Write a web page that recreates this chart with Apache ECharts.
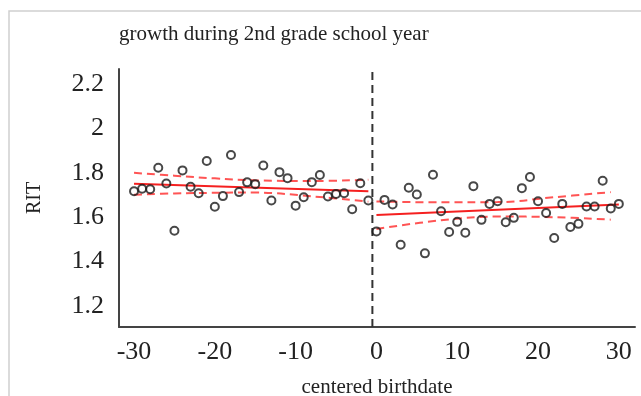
<!DOCTYPE html>
<html>
<head>
<meta charset="utf-8">
<script src="https://cdn.jsdelivr.net/npm/echarts@6/dist/echarts.min.js"></script>
<style>
  html, body { margin: 0; padding: 0; background: #fff; }
  #chart { width: 641px; height: 396px; }
</style>
</head>
<body>
<div id="chart"></div>
<script>
// Centered birthdate (days from cutoff) and mean RIT growth
const birthBefore = [-30, -29, -28, -27, -26, -25, -24, -23, -22, -21, -20, -19, -18, -17, -16,
                     -15, -14, -13, -12, -11, -10, -9, -8, -7, -6, -5, -4, -3, -2, -1];
const ritBefore = [1.717, 1.728, 1.726, 1.823, 1.752, 1.539, 1.811, 1.737, 1.708, 1.853,
                   1.647, 1.695, 1.880, 1.713, 1.757, 1.749, 1.833, 1.675, 1.803, 1.776,
                   1.652, 1.690, 1.758, 1.790, 1.693, 1.705, 1.708, 1.636, 1.753, 1.675];
const birthAfter = [0, 1, 2, 3, 4, 5, 6, 7, 8, 9, 10, 11, 12, 13, 14, 15,
                    16, 17, 18, 19, 20, 21, 22, 23, 24, 25, 26, 27, 28, 29, 30];
const ritAfter = [1.536, 1.678, 1.657, 1.476, 1.733, 1.702, 1.437, 1.791, 1.627, 1.533,
                  1.579, 1.530, 1.740, 1.588, 1.660, 1.672, 1.577, 1.597, 1.731, 1.781,
                  1.672, 1.619, 1.506, 1.660, 1.556, 1.570, 1.648, 1.648, 1.764, 1.639, 1.660];

// Linear fits and their confidence bands, per side of the cutoff
const fitBefore = [[-30, 1.751], [-1, 1.717]];
const upperBefore = [[-30, 1.800], [-25, 1.787], [-20, 1.775], [-15, 1.766], [-8, 1.763], [-1, 1.769]];
const lowerBefore = [[-30, 1.701], [-25, 1.707], [-20, 1.710], [-15, 1.711], [-8, 1.694], [-1, 1.670]];
const fitAfter = [[0, 1.610], [30, 1.657]];
const upperAfter = [[0, 1.671], [8, 1.667], [15, 1.668], [22, 1.690], [29, 1.713]];
const lowerAfter = [[0, 1.547], [8, 1.586], [15, 1.603], [22, 1.600], [29, 1.589]];

const cutoff = -0.5;
const xTicks = [-30, -20, -10, 0, 10, 20, 30];
const yTicks = [1.2, 1.4, 1.6, 1.8, 2, 2.2];

const serif = '"Liberation Serif", "Times New Roman", serif';
const pairs = (xs, ys) => xs.map((x, i) => [x, ys[i]]);

const bandStyle = { color: '#ff5454', width: 2, type: [8, 5] };

const chart = echarts.init(document.getElementById('chart'), null, { renderer: 'canvas' });
chart.setOption({
  animation: false,
  backgroundColor: '#fff',
  graphic: [{
    type: 'rect',
    shape: { x: 9, y: 11, width: 800, height: 600 },
    style: { fill: 'none', stroke: '#cfcfcf', lineWidth: 1.5 },
    silent: true
  }],
  title: {
    text: 'growth during 2nd grade school year',
    left: 114, top: 19,
    textStyle: { fontFamily: serif, fontSize: 21, fontWeight: 'normal', color: '#222' }
  },
  grid: {
    left: 119, right: 6, top: 69, bottom: 69,
    containLabel: false, outerBoundsMode: 'none'
  },
  xAxis: {
    type: 'value', min: -31.86, max: 32,
    name: 'centered birthdate', nameLocation: 'middle', nameGap: 50,
    nameTextStyle: { fontFamily: serif, fontSize: 21, color: '#222' },
    axisLine: { show: true, onZero: false, lineStyle: { color: '#444', width: 2 } },
    axisTick: { show: false },
    splitLine: { show: false },
    axisLabel: {
      customValues: xTicks, margin: 12,
      fontFamily: serif, fontSize: 26, color: '#222'
    }
  },
  yAxis: {
    type: 'value', min: 1.105, max: 2.268,
    name: 'RIT', nameLocation: 'middle', nameGap: 74, nameRotate: 90,
    nameTextStyle: { fontFamily: serif, fontSize: 20, color: '#222' },
    axisLine: { show: true, onZero: false, lineStyle: { color: '#444', width: 2 } },
    axisTick: { show: false },
    splitLine: { show: false },
    axisLabel: {
      customValues: yTicks, margin: 15,
      fontFamily: serif, fontSize: 26, color: '#222'
    }
  },
  series: [
    {
      type: 'line', data: [[cutoff, 1.105], [cutoff, 2.268]],
      symbol: 'none', silent: true,
      lineStyle: { color: '#333', width: 2, type: [8, 5] }, z: 1
    },
    { type: 'line', data: upperBefore, smooth: 0.4, symbol: 'none', lineStyle: bandStyle, z: 2 },
    { type: 'line', data: lowerBefore, smooth: 0.4, symbol: 'none', lineStyle: bandStyle, z: 2 },
    { type: 'line', data: upperAfter, smooth: 0.4, symbol: 'none', lineStyle: bandStyle, z: 2 },
    { type: 'line', data: lowerAfter, smooth: 0.4, symbol: 'none', lineStyle: bandStyle, z: 2 },
    { type: 'line', data: fitBefore, symbol: 'none', lineStyle: { color: '#f52020', width: 2 }, z: 3 },
    { type: 'line', data: fitAfter, symbol: 'none', lineStyle: { color: '#f52020', width: 2 }, z: 3 },
    {
      type: 'scatter', data: pairs(birthBefore, ritBefore).concat(pairs(birthAfter, ritAfter)),
      symbol: 'circle', symbolSize: 8,
      itemStyle: { color: 'rgba(255,255,255,0)', borderColor: '#1a1a1a', borderWidth: 2 },
      z: 4
    }
  ]
});
</script>
</body>
</html>
